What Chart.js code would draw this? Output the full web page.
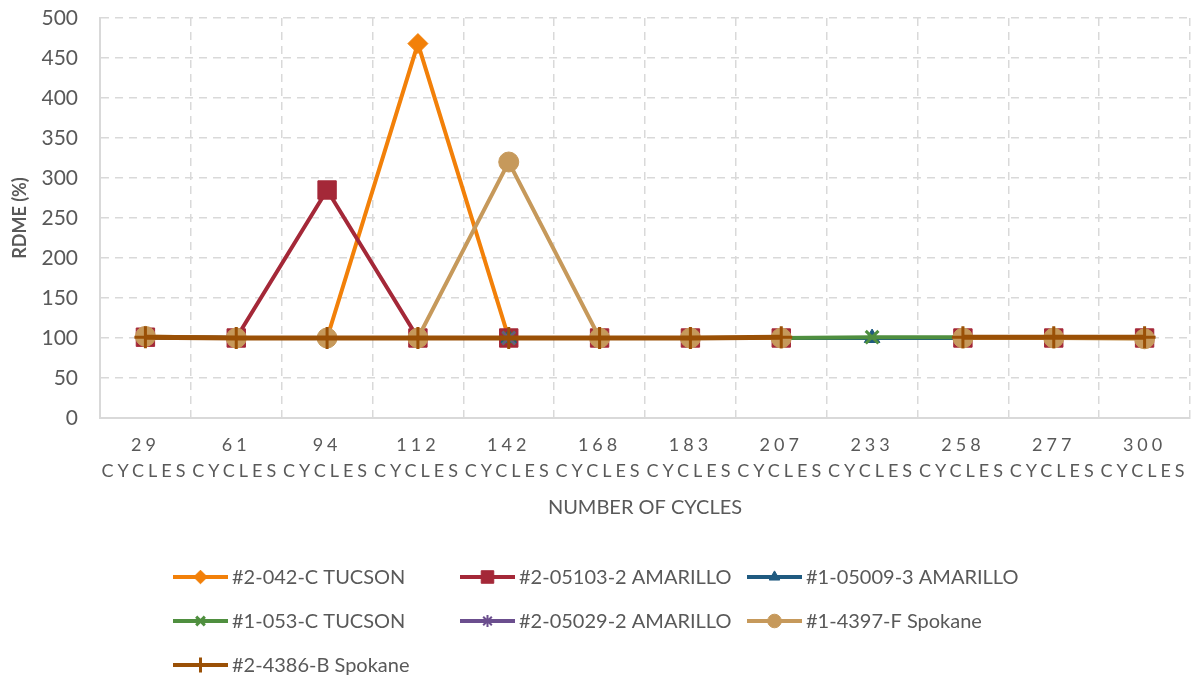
<!DOCTYPE html>
<html>
<head>
<meta charset="utf-8">
<script src="https://cdn.jsdelivr.net/npm/chart.js@4/dist/chart.umd.min.js"></script>
<style>
  html, body { margin: 0; padding: 0; background: #ffffff; }
  canvas { display: block; }
</style>
</head>
<body>
<canvas id="chart" width="1194" height="679"></canvas>
<script>
// Cycle counts on the x axis
const cycles = [29, 61, 94, 112, 142, 168, 183, 207, 233, 258, 277, 300];
const cycleUnit = 'CYCLES';

// RDME (%) per specimen; null = not measured at that cycle count
const tucson042C     = [101, 100, 100, 468, 100, 100, 100, 100, null, 100, 100, 100];
const amarillo05103  = [101, 100, 285, 100, 100, 100, 100, 100, null, 100, 100, 100];
const amarillo05009  = [101, 100, 100, 100, 100, 100, 100, 100, 100, 100, 100, 100];
const tucson053C     = [101, 100, 100, 100, 100, 100, 100, 100, 101, 101, 100, 100];
const amarillo05029  = [101, 100, 100, 100, 100, 100, 100, 100, null, 100, 100, 100];
const spokane4397F   = [102, 100, 100, 100, 320, 100, 100, 100, null, 100, 100, 99];
const spokane4386B   = [101, 100, 100, 100, 100, 100, 100, 101, null, 101, 101, 101];

const seriesNames = [
  '#2-042-C TUCSON',
  '#2-05103-2 AMARILLO',
  '#1-05009-3 AMARILLO',
  '#1-053-C TUCSON',
  '#2-05029-2 AMARILLO',
  '#1-4397-F Spokane',
  '#2-4386-B Spokane'
];

const yTicks = { min: 0, max: 500, step: 50 };

const TEXT = '#595959';
const GRID = '#d9d9d9';
const FONT = 'Lato, "Open Sans", sans-serif';

// Category axis whose tick labels are drawn with extra letter spacing
class SpacedCategoryScale extends Chart.CategoryScale {
  drawLabels(area) {
    const ctx = this.ctx;
    ctx.save();
    ctx.letterSpacing = '4px';
    super.drawLabels(area);
    ctx.restore();
  }
}
SpacedCategoryScale.id = 'spacedCategory';
SpacedCategoryScale.defaults = Chart.CategoryScale.defaults;
Chart.register(SpacedCategoryScale);

const styles = [
  { color: '#f28009', point: 'rectRot',  r: 10, bw: 1, lw: 4 },
  { color: '#a42838', point: 'rect',     r: 13, bw: 1, lw: 4 },
  { color: '#1f5a80', point: 'triangle', r: 9,  bw: 1, lw: 4 },
  { color: '#4f8f3f', point: 'crossRot', r: 9,  bw: 3, lw: 4 },
  { color: '#6b4e8e', point: 'star',     r: 9,  bw: 2, lw: 4 },
  { color: '#c6995b', point: 'circle',   r: 10, bw: 1, lw: 4 },
  { color: '#9a5006', point: 'cross',    r: 11, bw: 3, lw: 5 }
];

const values = [tucson042C, amarillo05103, amarillo05009, tucson053C, amarillo05029, spokane4397F, spokane4386B];

const datasets = values.map((data, i) => ({
  label: seriesNames[i],
  data: data,
  borderColor: styles[i].color,
  backgroundColor: styles[i].color,
  borderWidth: styles[i].lw,
  pointStyle: styles[i].point,
  pointRadius: styles[i].r,
  pointHoverRadius: styles[i].r,
  pointBackgroundColor: styles[i].color,
  pointBorderColor: styles[i].color,
  pointBorderWidth: styles[i].bw,
  tension: 0,
  spanGaps: false,
  clip: false,
  order: values.length - i
}));

// Legend laid out in three fixed columns below the axis title
const gridLegend = {
  id: 'gridLegend',
  afterDraw(chart) {
    const ctx = chart.ctx;
    chart.data.datasets.forEach((ds, i) => {
      const col = i % 3, row = Math.floor(i / 3);
      const x0 = 173 + col * 287;
      const y = 577 + row * 44;
      ctx.save();
      ctx.strokeStyle = ds.borderColor;
      ctx.lineWidth = 4;
      ctx.beginPath();
      ctx.moveTo(x0, y);
      ctx.lineTo(x0 + 55, y);
      ctx.stroke();
      ctx.fillStyle = ds.pointBackgroundColor;
      ctx.strokeStyle = ds.pointBorderColor;
      ctx.lineWidth = ds.pointBorderWidth;
      Chart.helpers.drawPoint(ctx, {
        pointStyle: ds.pointStyle,
        radius: ds.pointRadius * 0.68,
        borderWidth: ds.pointBorderWidth,
        rotation: 0
      }, x0 + 27.5, y);
      ctx.fillStyle = TEXT;
      ctx.font = '20px ' + FONT;
      ctx.textBaseline = 'middle';
      ctx.textAlign = 'left';
      ctx.fillText(ds.label, x0 + 59, y + 1);
      ctx.restore();
    });
  }
};

new Chart(document.getElementById('chart'), {
  type: 'line',
  data: {
    labels: cycles.map(c => [String(c), cycleUnit]),
    datasets: datasets
  },
  options: {
    responsive: false,
    animation: false,
    layout: { autoPadding: false, padding: { top: 18, right: 4, bottom: 154, left: 0 } },
    plugins: {
      legend: { display: false },
      tooltip: { enabled: false }
    },
    scales: {
      x: {
        type: 'spacedCategory',
        offset: true,
        grid: { offset: true, color: GRID, lineWidth: 1.5, drawTicks: false },
        border: { display: true, color: GRID, width: 2, dash: [8, 6] },
        ticks: {
          color: TEXT,
          font: { family: FONT, size: 18, lineHeight: 1.45 },
          padding: 14,
          autoSkip: false,
          maxRotation: 0,
          minRotation: 0
        },
        title: {
          display: true,
          text: 'NUMBER OF CYCLES',
          color: TEXT,
          font: { family: FONT, size: 20 },
          padding: { top: 4, bottom: 5 }
        },
        afterFit(scale) {
          scale.height = 107;
          scale.paddingLeft = 0;
          scale.paddingRight = 0;
        }
      },
      y: {
        min: yTicks.min,
        max: yTicks.max,
        grid: { color: GRID, lineWidth: 1.5, drawTicks: false },
        border: { display: true, color: GRID, width: 2, dash: [8, 6] },
        ticks: {
          stepSize: yTicks.step,
          color: TEXT,
          font: { family: FONT, size: 21 },
          padding: 22
        },
        title: {
          display: true,
          text: 'RDME (%)',
          color: TEXT,
          font: { family: FONT, size: 18, weight: 'bold' },
          padding: { top: 9, bottom: 0 }
        },
        afterFit(scale) {
          scale.width = 100;
          scale.paddingTop = 0;
          scale.paddingBottom = 0;
        }
      }
    }
  },
  plugins: [gridLegend]
});
</script>
</body>
</html>
